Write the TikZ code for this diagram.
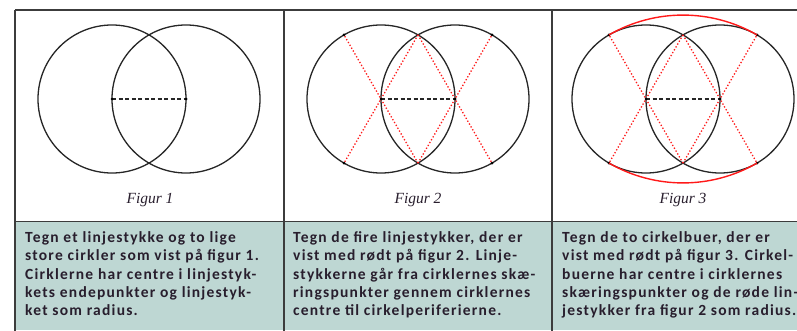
\documentclass[tikz,border=0pt]{standalone}
\usepackage{fontspec}
\setmainfont{Carlito}
\newfontfamily\capfont{Liberation Serif}
\newfontfamily\descfont[LetterSpace=8]{Carlito}
\usetikzlibrary{calc}

\definecolor{panelfill}{RGB}{190,215,211}
\definecolor{linegray}{RGB}{60,60,60}
\definecolor{textdark}{RGB}{40,30,45}

\begin{document}
\begin{tikzpicture}[
    x=1pt, y=1pt,
    gridline/.style={draw=linegray, line width=1.6pt},
    circ/.style={draw=black!85, line width=1.3pt},
    radiusline/.style={black!85, dash pattern=on 4pt off 2.5pt, line width=1.3pt},
    redline/.style={red!90, dotted, line width=1.3pt},
    redarc/.style={red!90, line width=1.4pt},
    ptdot/.style={circle, fill=black, inner sep=0pt, minimum size=3pt},
    caption/.style={font=\capfont\itshape\fontsize{15.5}{18}\selectfont, text=textdark},
    desc/.style={anchor=north west, align=left, inner sep=0pt, font=\descfont\bfseries\fontsize{15.5}{18.3}\selectfont, text=textdark}
]

\useasboundingbox (0,0) rectangle (797,330);
\clip (0,0) rectangle (797,330);

% Text row
\fill[panelfill] (15,0) rectangle (830,108.5);

% Table lines
\draw[gridline] (15,320) -- (830,320);
\draw[gridline] (15,108.5) -- (830,108.5);
\draw[gridline] (15,320) -- (15,-5);
\draw[gridline] (284,320) -- (284,-5);
\draw[gridline] (552,320) -- (552,-5);

% Figur 1
\coordinate (a1) at (112,231);
\coordinate (b1) at (186,231);
\draw[circ] (a1) circle[radius=74];
\draw[circ] (b1) circle[radius=74];
\draw[radiusline] (a1) -- (b1);
\node[ptdot] (da1) at (a1) {};
\node[ptdot] (db1) at (b1) {};
\node[caption] (cap1) at (150,130) {Figur 1};

% Figur 2
\coordinate (a2) at (381,231);
\coordinate (b2) at (455,231);
\coordinate (p2) at ($(a2)!0.5!(b2)+(0,64.1)$);
\coordinate (q2) at ($(a2)!0.5!(b2)-(0,64.1)$);
\draw[circ] (a2) circle[radius=74];
\draw[circ] (b2) circle[radius=74];
\draw[redline] (p2) -- ($(p2)!2!(a2)$) node[ptdot] (e2a) {};
\draw[redline] (p2) -- ($(p2)!2!(b2)$) node[ptdot] (e2b) {};
\draw[redline] (q2) -- ($(q2)!2!(a2)$) node[ptdot] (e2c) {};
\draw[redline] (q2) -- ($(q2)!2!(b2)$) node[ptdot] (e2d) {};
\draw[radiusline] (a2) -- (b2);
\node[ptdot] (da2) at (a2) {};
\node[ptdot] (db2) at (b2) {};
\node[caption] (cap2) at (418,130) {Figur 2};

% Figur 3
\coordinate (a3) at (646,231);
\coordinate (b3) at (720,231);
\coordinate (p3) at ($(a3)!0.5!(b3)+(0,64.1)$);
\coordinate (q3) at ($(a3)!0.5!(b3)-(0,64.1)$);
\draw[circ] (a3) circle[radius=74];
\draw[circ] (b3) circle[radius=74];
\draw[redline] (p3) -- ($(p3)!2!(a3)$) node[ptdot] (e3a) {};
\draw[redline] (p3) -- ($(p3)!2!(b3)$) node[ptdot] (e3b) {};
\draw[redline] (q3) -- ($(q3)!2!(a3)$) node[ptdot] (e3c) {};
\draw[redline] (q3) -- ($(q3)!2!(b3)$) node[ptdot] (e3d) {};
\draw[redarc] ($(q3)!2!(a3)$) arc[start angle=120, end angle=60, radius=148];
\draw[redarc] ($(p3)!2!(a3)$) arc[start angle=240, end angle=300, radius=148];
\draw[radiusline] (a3) -- (b3);
\node[ptdot] (da3) at (a3) {};
\node[ptdot] (db3) at (b3) {};
\node[caption] (cap3) at (683,130) {Figur 3};

% Descriptions
\node[desc] (txt1) at (25,98.5) {Tegn et linjestykke og to lige\\
    store cirkler som vist på figur 1.\\
    Cirklerne har centre i linjestyk-\\
    kets endepunkter og linjestyk-\\
    ket som radius.};
\node[desc] (txt2) at (293,98.5) {Tegn de fire linjestykker, der er\\
    vist med rødt på figur 2. Linje-\\
    stykkerne går fra cirklernes skæ-\\
    ringspunkter gennem cirklernes\\
    centre til cirkelperiferierne.};
\node[desc] (txt3) at (562,98.5) {Tegn de to cirkelbuer, der er\\
    vist med rødt på figur 3. Cirkel-\\
    buerne har centre i cirklernes\\
    skæringspunkter og de røde lin-\\
    jestykker fra figur 2 som radius.};

\end{tikzpicture}
\end{document}
